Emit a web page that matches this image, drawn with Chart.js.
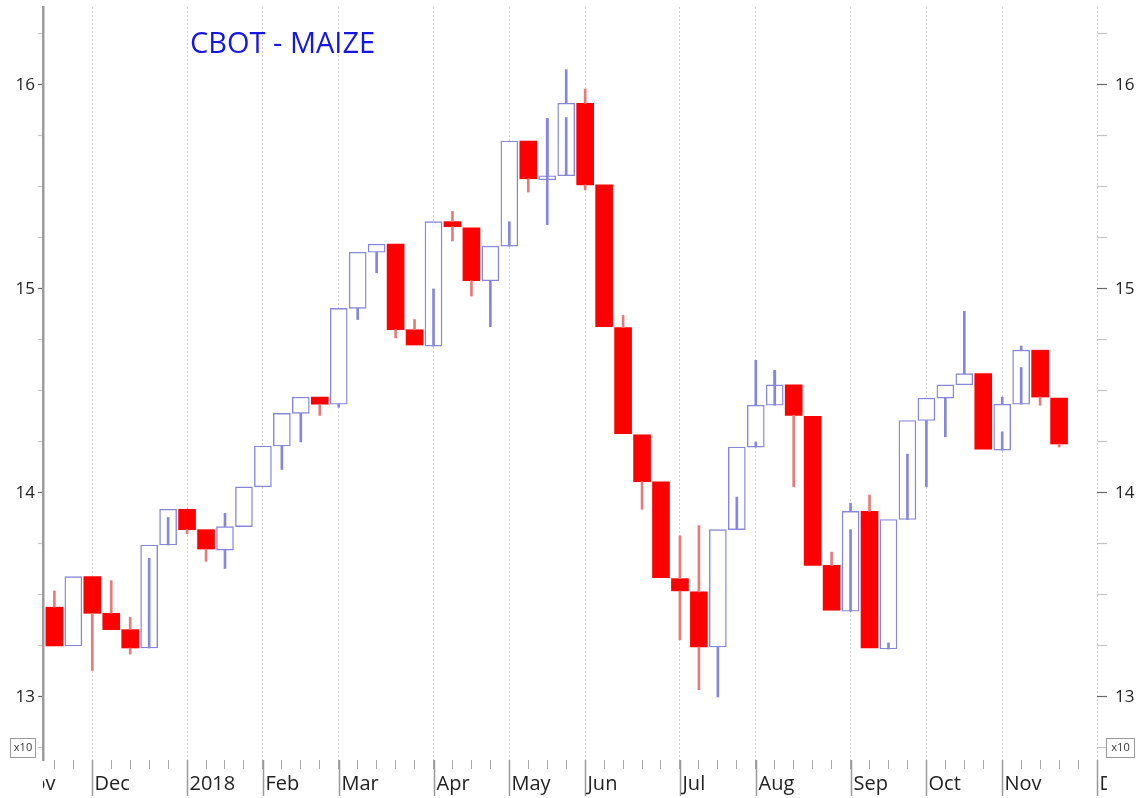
<!DOCTYPE html>
<html><head><meta charset="utf-8">
<script src="https://cdn.jsdelivr.net/npm/chart.js@4.4.1/dist/chart.umd.min.js"></script>
<style>html,body{margin:0;padding:0;background:#fff;}#wrap{width:1145px;height:798px;}</style>
</head><body><div id="wrap"><canvas id="c" width="1145" height="798"></canvas></div>
<script>
// Weekly bars (Friday dates)
const weeks = ['2017-11-17','2017-11-24','2017-12-01','2017-12-08','2017-12-15','2017-12-22','2017-12-29',
 '2018-01-05','2018-01-12','2018-01-19','2018-01-26','2018-02-02','2018-02-09','2018-02-16','2018-02-23',
 '2018-03-02','2018-03-09','2018-03-16','2018-03-23','2018-03-30','2018-04-06','2018-04-13','2018-04-20','2018-04-27',
 '2018-05-04','2018-05-11','2018-05-18','2018-05-25','2018-06-01','2018-06-08','2018-06-15','2018-06-22','2018-06-29',
 '2018-07-06','2018-07-13','2018-07-20','2018-07-27','2018-08-03','2018-08-10','2018-08-17','2018-08-24','2018-08-31',
 '2018-09-07','2018-09-14','2018-09-21','2018-09-28','2018-10-05','2018-10-12','2018-10-19','2018-10-26',
 '2018-11-02','2018-11-09','2018-11-16','2018-11-23'];
const opens  = [13.44,13.25,13.59,13.41,13.33,13.24,13.745,13.92,13.82,13.72,13.835,14.03,14.23,14.39,14.47,14.435,14.905,15.18,15.22,14.80,
 14.72,15.33,15.30,15.04,15.21,15.725,15.535,15.555,15.91,15.51,14.81,14.285,14.055,13.58,13.515,13.245,13.82,14.225,14.43,14.53,
 14.375,13.645,13.42,13.91,13.235,13.87,14.355,14.465,14.53,14.585,14.21,14.435,14.70,14.465];
const closes = [13.25,13.59,13.41,13.33,13.24,13.745,13.92,13.82,13.725,13.835,14.03,14.23,14.39,14.47,14.435,14.905,15.18,15.22,14.80,14.725,
 15.33,15.305,15.04,15.21,15.725,15.54,15.555,15.91,15.51,14.815,14.29,14.055,13.585,13.52,13.245,13.82,14.225,14.43,14.53,14.38,
 13.645,13.425,13.91,13.24,13.87,14.355,14.465,14.53,14.585,14.215,14.435,14.70,14.47,14.24];
const highs  = [13.52,13.59,13.59,13.57,13.39,13.745,13.92,13.92,13.82,13.90,14.03,14.23,14.39,14.47,14.47,14.905,15.18,15.22,15.22,14.85,
 15.33,15.38,15.30,15.21,15.725,15.725,15.835,16.075,15.98,15.51,14.87,14.285,14.055,13.79,13.84,13.82,14.225,14.65,14.60,14.53,
 14.375,13.71,13.95,13.99,13.87,14.355,14.465,14.53,14.89,14.585,14.47,14.72,14.70,14.465];
const lows   = [13.25,13.25,13.13,13.33,13.21,13.24,13.745,13.80,13.665,13.63,13.835,14.03,14.115,14.25,14.38,14.42,14.85,15.08,14.76,14.725,
 14.72,15.235,14.965,14.815,15.21,15.475,15.315,15.555,15.485,14.815,14.29,13.92,13.585,13.28,13.035,13.00,13.82,14.225,14.43,14.03,
 13.645,13.425,13.42,13.24,13.235,13.87,14.03,14.275,14.53,14.215,14.21,14.435,14.43,14.225];
// Top of the thin line drawn up from the low inside hollow bodies (null = none)
const innerTops = [null,null,null,null,null,13.68,13.88,null,null,null,null,null,null,null,null,null,null,null,null,null,
 15.00,null,null,null,15.33,null,15.835,15.84,null,null,null,null,null,null,null,null,13.98,14.25,14.60,null,
 null,null,13.82,null,13.265,14.19,null,null,null,null,14.30,14.615,null,null];
const monthLabels  = ['Nov','Dec','2018','Feb','Mar','Apr','May','Jun','Jul','Aug','Sep','Oct','Nov','Dec'];
const monthTickIdx = [-2,2,7,11,15,20,24,28,33,37,42,46,50,55];
const yTickValues  = [12.75,13,13.25,13.5,13.75,14,14.25,14.5,14.75,15,15.25,15.5,15.75,16,16.25];
const yLabelValues = [13,14,15,16];
const titleText = 'CBOT - MAIZE';

const RED = '#ff0000', BLUE = '#8686dc', RED_WICK = '#e87a7a';
const FONT = '"Open Sans", "Liberation Sans", sans-serif';

const up = weeks.map((w,i)=> closes[i] >= opens[i]);
const bodyData = weeks.map((w,i)=>({x:i, y:[opens[i], closes[i]]}));
const upperWick = [], upperCol = [];
const lowerWick = [], lowerCol = [];
weeks.forEach((w,i)=>{
  const top = Math.max(opens[i],closes[i]), bot = Math.min(opens[i],closes[i]);
  if (highs[i] > top + 0.001) { upperWick.push({x:i, y:[top, highs[i]]}); upperCol.push(up[i]?BLUE:RED_WICK); }
  const lt = innerTops[i] != null ? innerTops[i] : bot;
  if (lt > lows[i] + 0.001) { lowerWick.push({x:i, y:[lows[i], lt]}); lowerCol.push(up[i]?BLUE:RED_WICK); }
});

const decor = {
  id:'decor',
  afterDraw(chart){
    const {ctx, chartArea:a, scales:{x}} = chart;
    ctx.save();
    // month major ticks and labels, clipped like the original
    ctx.beginPath(); ctx.rect(a.left, a.bottom, a.right + 10 - a.left, 60); ctx.clip();
    ctx.font = '20px ' + FONT; ctx.fillStyle = '#222'; ctx.textAlign = 'left'; ctx.textBaseline = 'middle';
    ctx.strokeStyle = '#9a9a9a'; ctx.lineWidth = 1.5;
    monthTickIdx.forEach((m,k)=>{
      const px = Math.round(x.getPixelForValue(m)) + 0.5;
      ctx.beginPath(); ctx.moveTo(px, a.bottom); ctx.lineTo(px, a.bottom + 36); ctx.stroke();
      ctx.fillText(monthLabels[k], px + 2, a.bottom + 24);
    });
    ctx.restore();
    ctx.save();
    // x10 boxes
    ctx.strokeStyle = '#9a9a9a'; ctx.lineWidth = 1; ctx.fillStyle = '#333';
    ctx.font = '11px ' + FONT; ctx.textAlign = 'center'; ctx.textBaseline = 'middle';
    [[a.left - 33, 25],[a.right + 9, 28]].forEach(([bx,bw])=>{
      ctx.strokeRect(bx + 0.5, a.bottom - 21.5, bw, 19);
      ctx.fillText('x10', bx + bw/2 + 0.5, a.bottom - 12);
    });
    // title
    ctx.font = '29px ' + FONT; ctx.fillStyle = '#1616e4'; ctx.textAlign = 'left'; ctx.textBaseline = 'middle';
    ctx.fillText(titleText, a.left + 147, a.top + 38);
    ctx.restore();
  }
};

const yAxis = (pos, w, tickLen, pad) => ({
  position: pos, min: 12.691, max: 16.382,
  afterBuildTicks: s => { s.ticks = yTickValues.map(v=>({value:v})); },
  afterFit: s => { s.width = w; s.paddingTop = 0; s.paddingBottom = 0; },
  grid: { drawOnChartArea:false, drawTicks:true, tickLength:tickLen, tickWidth:1.2,
          tickColor: c => yLabelValues.includes(c.tick && c.tick.value) ? '#666' : '#c4c4c4' },
  border: pos==='left' ? {display:true, color:'#9c9c9c', width:2.5} : {display:false},
  ticks: { padding: pad, color:'#222', font:{family:FONT, size:17},
           callback: v => yLabelValues.includes(v) ? String(v) : '' }
});

new Chart(document.getElementById('c'), {
  type:'bar',
  data:{ datasets:[
    { label:'body', data: bodyData, order:2, grouped:false, barThickness:17,
      backgroundColor: up.map(u=> u ? '#ffffff' : RED),
      borderColor: up.map(u=> u ? BLUE : RED),
      borderWidth: up.map(u=> u ? 1.4 : 0), borderSkipped:false },
    { label:'upper', data: upperWick, order:1, grouped:false, barThickness:2,
      backgroundColor: upperCol, borderWidth:0 },
    { label:'lower', data: lowerWick, order:1, grouped:false, barThickness:2,
      backgroundColor: lowerCol, borderWidth:0 }
  ]},
  options:{
    responsive:false, animation:false, devicePixelRatio:1,
    layout:{ padding:{ top:7, left:0, right:0, bottom:0 } },
    plugins:{ legend:{display:false}, tooltip:{enabled:false} },
    scales:{
      x:{ type:'linear', min:-0.6, max:55, offset:false,
          afterBuildTicks: s => { const t=[]; for (let i=0;i<=55;i++) t.push({value:i}); s.ticks=t; },
          afterFit: s => { s.height = 38; s.paddingLeft = 0; s.paddingRight = 0; },
          ticks:{ display:false },
          grid:{ offset:false, drawOnChartArea:true, drawTicks:true, tickLength:9, tickWidth:1, tickColor:'#a8a8a8',
                 tickBorderDash:[], lineWidth:1,
                 color: c => monthTickIdx.includes(c.tick && c.tick.value) ? '#cfcfcf' : 'rgba(0,0,0,0)' },
          border:{ display:false, dash:[2,2] } },
      y: yAxis('left', 43, 5, 3),
      y2: yAxis('right', 48, 10, 8)
    }
  },
  plugins:[decor]
});
</script></body></html>
